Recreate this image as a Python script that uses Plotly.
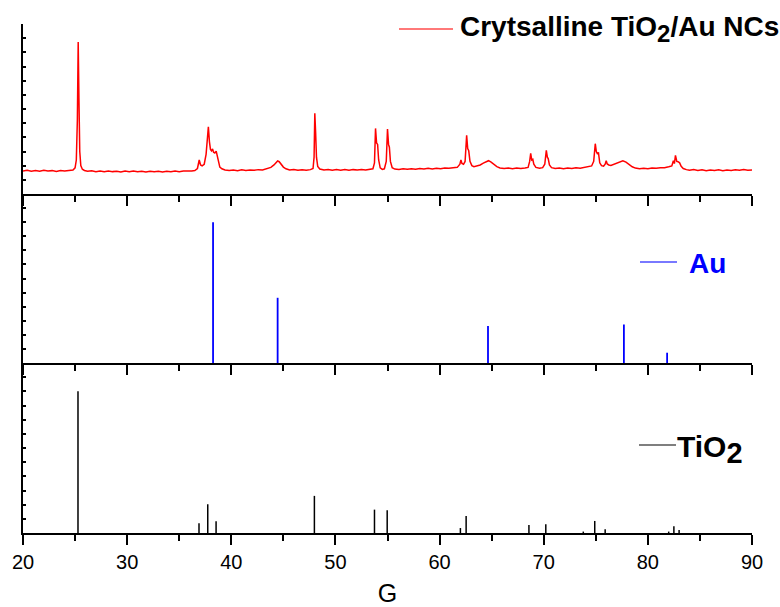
import plotly.graph_objects as go

# Measured XRD pattern of the TiO2/Au nanocomposite (2-theta in degrees, intensity a.u.)
two_theta = [
    20.0, 20.4, 20.8, 21.2, 21.6, 22.0, 22.4, 22.8, 23.2, 23.6, 24.0, 24.4, 24.8,
    25.0, 25.12, 25.22, 25.3, 25.37, 25.45, 25.55, 25.7, 25.9,
    26.2, 26.6, 27.0, 27.4, 27.8, 28.2, 28.6, 29.0, 29.4, 29.8, 30.2, 30.6, 31.0, 31.4,
    31.8, 32.2, 32.6, 33.0, 33.4, 33.8, 34.2, 34.6, 35.0, 35.4, 35.8, 36.2, 36.5,
    36.75, 36.92, 37.05, 37.2, 37.4, 37.58, 37.72, 37.8, 37.9, 38.0, 38.1, 38.2, 38.3,
    38.42, 38.55, 38.65, 38.78, 38.9, 39.1, 39.4, 39.8, 40.2, 40.6, 41.0, 41.4, 41.8,
    42.2, 42.6, 43.0,
    43.4, 43.8, 44.1, 44.3, 44.45, 44.6, 44.8, 45.0, 45.25, 45.6, 46.0, 46.4, 46.8,
    47.2, 47.6,
    47.85, 47.95, 48.02, 48.1, 48.18, 48.3, 48.5, 48.9, 49.3, 49.7, 50.1, 50.5, 50.9,
    51.3, 51.7, 52.1, 52.5, 52.9, 53.3, 53.6,
    53.75, 53.85, 53.95, 54.05, 54.15, 54.3, 54.5, 54.7, 54.88, 55.0, 55.1, 55.18,
    55.28, 55.45, 55.7, 56.1, 56.5, 56.9, 57.3, 57.7, 58.1, 58.5, 58.9, 59.3, 59.7,
    60.1, 60.5, 60.9, 61.3, 61.7,
    61.95, 62.05, 62.15, 62.3, 62.45, 62.6, 62.7, 62.8, 62.92, 63.1, 63.3, 63.6, 63.9,
    64.2, 64.5, 64.7, 64.95, 65.2, 65.5, 65.8, 66.2, 66.6, 67.0, 67.4, 67.8, 68.2, 68.5,
    68.65, 68.75, 68.85, 68.95, 69.05, 69.25, 69.6, 69.9, 70.1, 70.25, 70.35, 70.43,
    70.55, 70.75, 71.1, 71.5, 71.9, 72.3, 72.7, 73.1, 73.5, 73.9, 74.3, 74.6, 74.8,
    74.95, 75.05, 75.15, 75.26, 75.38, 75.55, 75.75, 75.9, 76.0, 76.1, 76.25, 76.45,
    76.7, 77.0, 77.3, 77.6, 77.9, 78.2, 78.5, 78.8, 79.2, 79.6, 80.0, 80.4, 80.8, 81.2,
    81.6, 82.0, 82.3, 82.45, 82.55, 82.65, 82.78, 82.9, 83.05, 83.2, 83.4, 83.7, 84.0,
    84.4, 84.8, 85.2, 85.6, 86.0, 86.4, 86.8, 87.2, 87.6, 88.0, 88.4, 88.8, 89.2, 89.6,
    90.0,
]
counts = [
    1.63, 1.68, 1.61, 1.66, 1.60, 1.67, 1.62, 1.65, 1.59, 1.66, 1.62, 1.67, 1.70,
    1.85, 2.4, 5.2, 10.73, 6.8, 3.0, 2.0, 1.75, 1.66,
    1.61, 1.64, 1.58, 1.63, 1.57, 1.62, 1.58, 1.61, 1.56, 1.62, 1.58, 1.63, 1.57, 1.60,
    1.55, 1.61, 1.57, 1.60, 1.56, 1.61, 1.57, 1.62, 1.58, 1.62, 1.60, 1.63, 1.66,
    1.8, 2.4, 2.05, 1.98, 2.1, 2.8, 3.9, 4.75, 3.7, 3.15, 3.05, 3.18, 2.95,
    2.9, 3.03, 2.75, 2.2, 1.9, 1.78, 1.70, 1.66, 1.70, 1.65, 1.71, 1.66, 1.70,
    1.67, 1.72, 1.70,
    1.78, 1.88, 2.05, 2.22, 2.33, 2.28, 2.1, 1.9, 1.78, 1.70, 1.73, 1.67, 1.71,
    1.68, 1.72,
    1.8, 2.6, 5.7, 4.3, 2.6, 1.95, 1.76, 1.70, 1.73, 1.67, 1.72, 1.68, 1.73,
    1.68, 1.72, 1.69, 1.73, 1.70, 1.74, 1.78,
    2.2, 4.63, 3.6, 3.5, 2.4, 1.85, 1.74, 1.78, 2.3, 4.59, 3.5, 3.3,
    2.3, 1.85, 1.76, 1.73, 1.78, 1.74, 1.79, 1.75, 1.80, 1.76, 1.81, 1.77, 1.82,
    1.79, 1.84, 1.82, 1.86, 1.88,
    2.1, 2.4, 2.15, 2.1, 2.3, 4.14, 3.2, 3.05, 2.3, 2.0, 1.93, 1.97, 2.05,
    2.18, 2.3, 2.35, 2.25, 2.08, 1.93, 1.84, 1.80, 1.84, 1.79, 1.83, 1.80, 1.84, 1.88,
    2.3, 2.87, 2.4, 2.45, 2.1, 1.88, 1.82, 1.86, 2.1, 3.08, 2.6, 2.5,
    2.05, 1.86, 1.80, 1.84, 1.79, 1.83, 1.80, 1.85, 1.82, 1.88, 1.90, 1.98, 2.3,
    3.55, 3.0, 2.85, 2.9, 2.2, 2.0, 1.97, 2.1, 2.35, 2.12, 2.05, 2.02,
    2.08, 2.18, 2.28, 2.35, 2.25, 2.08, 1.92, 1.83, 1.78, 1.82, 1.78, 1.84, 1.81, 1.86,
    1.85, 1.92, 1.98, 2.35, 2.15, 2.73, 2.3, 2.28, 2.2, 1.95, 1.80, 1.72, 1.67,
    1.72, 1.66, 1.71, 1.65, 1.70, 1.66, 1.71, 1.65, 1.70, 1.66, 1.71, 1.67, 1.72, 1.68,
    1.70,
]

# Reference line positions and relative heights (Au, cubic)
au_pos = [38.25, 44.45, 64.65, 77.7, 81.85]
au_height = [10.0, 4.63, 2.62, 2.74, 0.73]

# Reference line positions and relative heights (TiO2, anatase)
tio2_pos = [25.28, 36.9, 37.74, 38.54, 47.98, 53.75, 54.97, 62.0, 62.55, 68.58,
            70.2, 73.8, 74.9, 75.9, 82.0, 82.5, 83.0]
tio2_height = [10.0, 0.69, 2.03, 0.83, 2.62, 1.65, 1.6, 0.35, 1.2, 0.57,
               0.62, 0.1, 0.85, 0.26, 0.1, 0.47, 0.21]

x_ticks = [20, 30, 40, 50, 60, 70, 80, 90]
x_title = "G"
labels = ['Crytsalline TiO<sub><span style="font-size:24px">2</span></sub>/Au NCs',
          "Au",
          'TiO<sub><span style="font-size:29px">2</span></sub>']


def sticks(pos, height):
    xs, ys = [], []
    for p, h in zip(pos, height):
        xs += [p, p, None]
        ys += [0, h, None]
    return xs, ys


FONT = "Liberation Sans, Arial, sans-serif"
W, H = 780, 607
ML, MR, MT, MB = 23, 28, 24, 74
PW, PH = W - ML - MR, H - MT - MB

fig = go.Figure()
fig.add_trace(go.Scatter(x=two_theta, y=counts, mode="lines",
                         line=dict(color="#ff0000", width=1.5),
                         xaxis="x3", yaxis="y3", showlegend=False))
ax, ay = sticks(au_pos, au_height)
fig.add_trace(go.Scatter(x=ax, y=ay, mode="lines",
                         line=dict(color="#0000ff", width=1.8),
                         xaxis="x2", yaxis="y2", showlegend=False))
tx, ty = sticks(tio2_pos, tio2_height)
fig.add_trace(go.Scatter(x=tx, y=ty, mode="lines",
                         line=dict(color="#000000", width=1.5),
                         xaxis="x", yaxis="y", showlegend=False))

xcommon = dict(range=[20, 90], showline=True, linecolor="black", linewidth=2,
               ticks="outside", ticklen=10, tickwidth=2, tickcolor="black",
               tickvals=x_ticks, showgrid=False, zeroline=False, automargin=False,
               minor=dict(dtick=5, tick0=20, ticks="outside", ticklen=6,
                          tickwidth=2, tickcolor="black", showgrid=False))
ycommon = dict(range=[0, 12], showline=True, linecolor="black", linewidth=2,
               ticks="inside", ticklen=3, tickwidth=1.5, tickcolor="black",
               dtick=1, tick0=0, showticklabels=False, showgrid=False,
               zeroline=False, automargin=False)

d1, d2 = 170 / 509, 339 / 509
fig.update_layout(
    width=W, height=H,
    margin=dict(l=ML, r=MR, t=MT, b=MB, pad=0, autoexpand=False),
    paper_bgcolor="white", plot_bgcolor="white",
    font=dict(family=FONT, color="black"),
    xaxis=dict(**xcommon, anchor="y", showticklabels=True,
               tickfont=dict(size=20, family=FONT),
               title=dict(text=x_title, font=dict(size=25, family=FONT), standoff=12)),
    xaxis2=dict(**xcommon, anchor="y2", matches="x", showticklabels=False),
    xaxis3=dict(**xcommon, anchor="y3", matches="x", showticklabels=False),
    yaxis=dict(**ycommon, domain=[0, d1], anchor="x"),
    yaxis2=dict(**ycommon, domain=[d1, d2], anchor="x2"),
    yaxis3=dict(**ycommon, domain=[d2, 1], anchor="x3"),
)


def px_x(px):
    return (px - ML) / PW


def px_y(py):
    return (MT + PH - py) / PH


# legend swatches and labels for each panel
swatches = [(399, 453, 29, "#ff4d4d", 1.5), (640, 677, 262, "#4d4dff", 1.5),
            (639, 676, 445, "#000000", 1.2)]
for x0, x1, yy, c, w in swatches:
    fig.add_shape(type="line", xref="paper", yref="paper",
                  x0=px_x(x0), x1=px_x(x1), y0=px_y(yy), y1=px_y(yy),
                  line=dict(color=c, width=w))

label_specs = [(labels[0], 458, 29, 28, "black"),
               (labels[1], 687, 263, 28, "#0000ff"),
               (labels[2], 675, 449, 30, "black")]
for txt, xx, yy, sz, c in label_specs:
    fig.add_annotation(text="<b>" + txt + "</b>", xref="paper", yref="paper",
                       x=px_x(xx), y=px_y(yy), xanchor="left", yanchor="middle",
                       showarrow=False, font=dict(size=sz, color=c, family=FONT))

fig.write_html("out.html")
